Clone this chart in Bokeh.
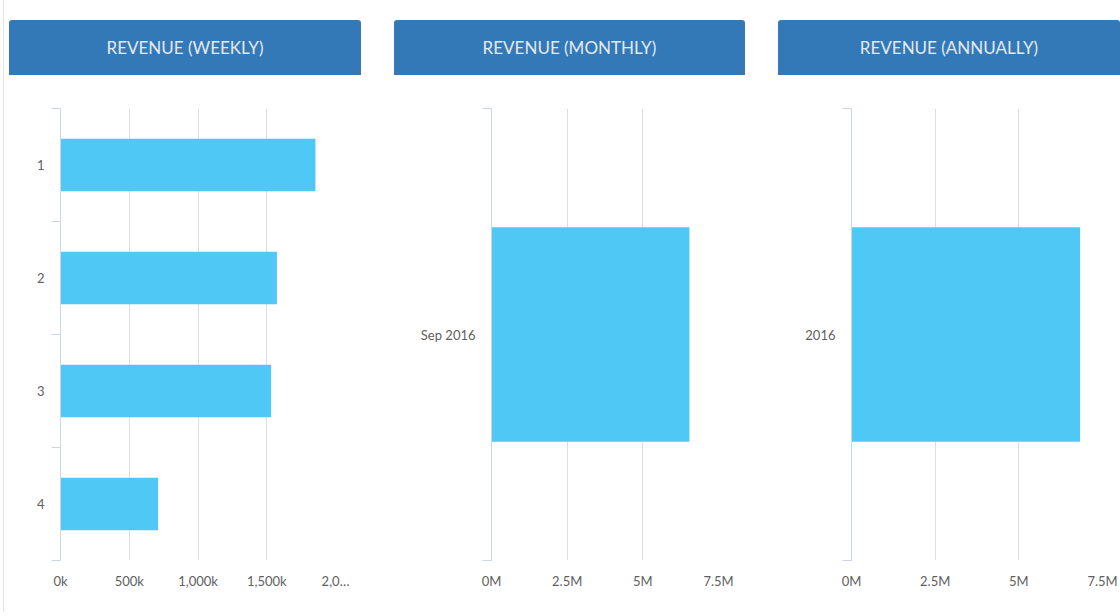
from bokeh.plotting import figure
from bokeh.models import Div, Range1d, FixedTicker
from bokeh.layouts import row, column
from bokeh.embed import file_html
from bokeh.resources import INLINE

# ---------------- data ----------------
titles = ["REVENUE (WEEKLY)", "REVENUE (MONTHLY)", "REVENUE (ANNUALLY)"]

weeks = ["1", "2", "3", "4"]
weekly_revenue = [1854000, 1574000, 1532000, 710000]
weekly_ticks = [0, 500000, 1000000, 1500000, 2000000]
weekly_tick_labels = ["0k", "500k", "1,000k", "1,500k", "2,0\u2026"]

months = ["Sep 2016"]
monthly_revenue = [6540000]
monthly_ticks = [0, 2500000, 5000000, 7500000]
monthly_tick_labels = ["0M", "2.5M", "5M", "7.5M"]

years = ["2016"]
annual_revenue = [6830000]
annual_ticks = [0, 2500000, 5000000, 7500000]
annual_tick_labels = ["0M", "2.5M", "5M", "7.5M"]

# ---------------- style ----------------
HEADER_BG = "#3479b7"
HEADER_FG = "#e3e9f0"
BAR = "#50c8f5"
GRID = "#dedede"
AXIS = "#ccd6eb"
LABEL = "#606060"
FONT = "Lato"


def header(text, width):
    return Div(
        text=text, width=width, height=55, margin=(0, 0, 0, 0),
        styles={
            "background-color": HEADER_BG,
            "color": HEADER_FG,
            "font-family": "Lato, sans-serif",
            "font-size": "17px",
            "text-align": "center",
            "line-height": "55px",
            "border-radius": "3px 3px 0 0",
            "display": "block",
            "width": f"{width}px",
        },
    )


def panel(cats, vals, ticks, tick_labels, width, border_left, border_right, bar_h):
    n = len(cats)
    p = figure(
        width=width, height=525, output_backend="svg", toolbar_location=None,
        x_range=Range1d(ticks[0], ticks[-1]), y_range=Range1d(0, n),
        min_border_left=border_left, min_border_right=border_right,
        min_border_top=33, min_border_bottom=40,
        margin=(0, 0, 0, 0),
    )
    p.outline_line_color = None
    p.background_fill_color = "white"
    p.border_fill_color = "white"

    centers = [n - i - 0.5 for i in range(n)]
    bounds = list(range(n + 1))
    p.hbar(y=centers, right=vals, left=0, height=bar_h,
           fill_color=BAR, line_color=None)

    # value axis (bottom)
    xa = p.xaxis[0]
    xa.ticker = FixedTicker(ticks=ticks)
    xa.major_label_overrides = {t: l for t, l in zip(ticks, tick_labels)}
    xa.axis_line_color = None
    xa.major_tick_line_color = None
    xa.minor_tick_line_color = None
    xa.major_label_text_font = FONT
    xa.major_label_text_font_size = "13px"
    xa.major_label_text_color = LABEL
    xa.major_label_standoff = 6

    # category axis (left)
    ya = p.yaxis[0]
    ya.ticker = FixedTicker(ticks=centers, minor_ticks=bounds)
    ya.major_label_overrides = {c: l for c, l in zip(centers, cats)}
    ya.axis_line_color = AXIS
    ya.major_tick_line_color = None
    ya.major_tick_out = 0
    ya.major_tick_in = 0
    ya.minor_tick_line_color = AXIS
    ya.minor_tick_out = 9
    ya.minor_tick_in = 0
    ya.major_label_text_font = FONT
    ya.major_label_text_font_size = "13px"
    ya.major_label_text_color = LABEL
    ya.major_label_standoff = 7

    p.xgrid.ticker = FixedTicker(ticks=ticks)
    p.xgrid.grid_line_color = GRID
    p.ygrid.grid_line_color = None
    return p


p1 = panel(weeks, weekly_revenue, weekly_ticks, weekly_tick_labels, 352, 51, 26, 0.465)
p2 = panel(months, monthly_revenue, monthly_ticks, monthly_tick_labels, 351, 97, 27, 0.475)
p3 = panel(years, annual_revenue, annual_ticks, annual_tick_labels, 342, 73, 18, 0.475)

c1 = column(header(titles[0], 352), p1, spacing=0, margin=(20, 0, 0, 5))
c2 = column(header(titles[1], 351), p2, spacing=0, margin=(20, 0, 0, 33))
c3 = column(header(titles[2], 342), p3, spacing=0, margin=(20, 0, 0, 33))

edge = Div(text="", width=1, height=612, margin=(0, 0, 0, 3),
           styles={"background-color": "#e4e4e4", "display": "block"})

layout = row(edge, c1, c2, c3, spacing=0, margin=(0, 0, 0, 0))

open("out.html", "w").write(file_html(layout, INLINE))
